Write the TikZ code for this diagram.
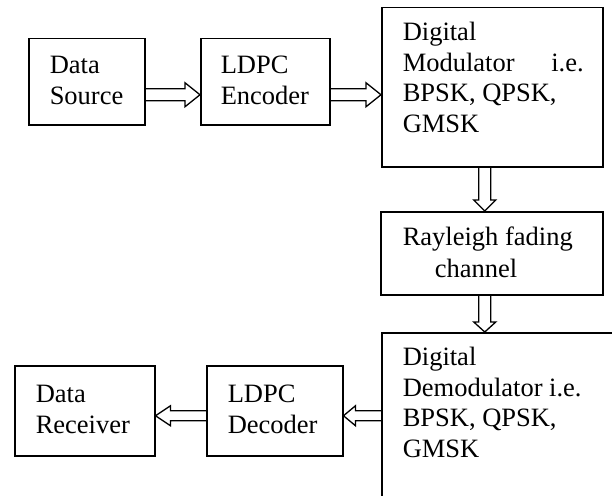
\documentclass[tikz,border=0pt]{standalone}
\usepackage{fontspec}
\setmainfont{Liberation Serif}
\usetikzlibrary{calc}
% box contents: width, height, top gap, left pad, right pad, text
\newcommand\boxtxt[6]{\parbox[c][#2][t]{#1}{\vspace*{#3}\leftskip=#4\rightskip=#5\noindent\rule{0pt}{20pt}#6}}
% block arrow: start, end, head length, head half width, shaft half width
\newcommand\barrow[5]{\draw[arr] let \p1=(#1), \p2=(#2), \n1={atan2(\y2-\y1,\x2-\x1)}, \n2={veclen(\x2-\x1,\y2-\y1)} in [shift={(\p1)}, rotate=\n1] (0pt,#5) -- (\n2-#3,#5) -- (\n2-#3,#4) -- (\n2,0pt) -- (\n2-#3,-#4) -- (\n2-#3,-#5) -- (0pt,-#5);}
\begin{document}
\begin{tikzpicture}[x=1pt,y=-1pt,
  font=\fontsize{26.5}{30.5}\selectfont,
  blk/.style={draw, line width=1.5pt, inner sep=0pt, anchor=north west},
  arr/.style={line width=1.3pt, line join=miter}]
\useasboundingbox (0,0) rectangle (612,495);
\clip (0,0) rectangle (612,495);
\node[blk] (src) at (28,38) {\boxtxt{116pt}{86pt}{15pt}{21pt}{0pt}{Data\\Source}};
\node[blk] (enc) at (200,38) {\boxtxt{129pt}{86pt}{15pt}{20pt}{0pt}{LDPC\\Encoder}};
\node[blk] (mod) at (381,7) {\boxtxt{221pt}{159pt}{13pt}{21pt}{19pt}{Digital\\Modulator\hfill i.e.\\BPSK, QPSK,\\GMSK}};
\node[blk] (ray) at (380,211) {\boxtxt{222pt}{83pt}{14pt}{22pt}{0pt}{Rayleigh fading\\[1.5pt]\hspace*{32pt}channel}};
\node[blk] (dem) at (381,332) {\boxtxt{250pt}{200pt}{13pt}{21pt}{0pt}{Digital\\Demodulator i.e.\\BPSK, QPSK,\\GMSK}};
\node[blk] (dec) at (206,365) {\boxtxt{136pt}{90pt}{17pt}{21pt}{0pt}{LDPC\\Decoder}};
\node[blk] (rcv) at (14,365) {\boxtxt{140pt}{90pt}{17pt}{21pt}{0pt}{Data\\Receiver}};
\barrow{$(src.east)+(0,13)$}{$(enc.west)+(0,13)$}{15pt}{12pt}{6pt}
\barrow{$(enc.east)+(0,13)$}{$(mod.west)+(0,7.5)$}{15pt}{12pt}{6pt}
\barrow{$(mod.south)+(-7.5,0)$}{$(ray.north)+(-7,0)$}{11pt}{11pt}{6pt}
\barrow{$(ray.south)+(-7,0)$}{$(dem.north)+(-22,0)$}{10pt}{11pt}{6pt}
\barrow{$(dem.west)+(0,-17)$}{$(dec.east)+(0,5)$}{12pt}{10pt}{5pt}
\barrow{$(dec.west)+(0,5)$}{$(rcv.east)+(0,5)$}{15pt}{10pt}{5pt}
\end{tikzpicture}
\end{document}
